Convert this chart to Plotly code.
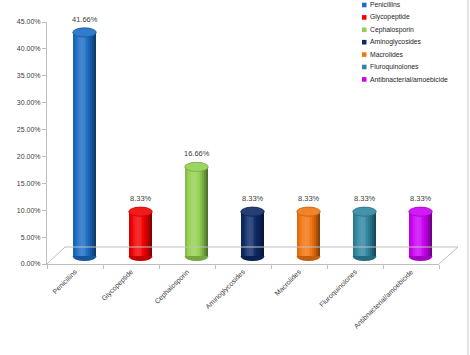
import plotly.graph_objects as go

categories = ["Penicillins", "Glycopeptide", "Cephalosporin", "Aminoglycosides",
              "Macrolides", "Fluroquinolones", "Antibnacterial/amoebicide"]
values = [0.4166, 0.0833, 0.1666, 0.0833, 0.0833, 0.0833, 0.0833]
value_labels = ["41.66%", "8.33%", "16.66%", "8.33%", "8.33%", "8.33%", "8.33%"]
colors = ["#1a6cc4", "#f20000", "#92d050", "#0d2a66", "#f27510", "#2e86a0", "#cc00f5"]

W, H = 470, 355
L, R, T, B = 47, 439, 22, 264
FONT = "Liberation Sans, Arial, sans-serif"
TXT = "#404040"
GRID = "#bfbfbf"

BASE = 0.014      # 3D depth offset of cylinder base
WIDTH = 0.42
OFFSET = -0.04
CAP = 0.0085      # half-height of ellipse caps (data units)
NSTRIP = 12


def hex2rgb(h):
    h = h.lstrip("#")
    return tuple(int(h[i:i + 2], 16) for i in (0, 2, 4))


def shade(h, f):
    r, g, b = hex2rgb(h)
    if f >= 1:
        k = f - 1
        r, g, b = [c + (255 - c) * k for c in (r, g, b)]
    else:
        r, g, b = [c * f for c in (r, g, b)]
    return "rgb(%d,%d,%d)" % (round(r), round(g), round(b))


def factor(t):
    # brightness across the cylinder: dark edges, highlight left of centre
    d = abs(t - 0.38)
    return 1.18 - 0.7 * (d / 0.62) ** 1.6


def px_x(p):
    return (p - L) / (R - L)


def px_y(p):
    return (B - p) / (B - T)


fig = go.Figure()
shapes = []
annotations = []

for i, (cat, v, c) in enumerate(zip(categories, values, colors)):
    sw = WIDTH / NSTRIP
    for k in range(NSTRIP):
        t = (k + 0.5) / NSTRIP
        fig.add_trace(go.Bar(
            x=[cat], y=[v], base=[BASE], width=[sw + 0.002],
            offset=OFFSET + k * sw,
            marker=dict(color=shade(c, factor(t)), line=dict(width=0)),
            showlegend=False, hoverinfo="skip"))
    # bottom rounded end
    shapes.append(dict(type="circle", xref="x", yref="y", layer="below",
                       x0=i + OFFSET, x1=i + OFFSET + WIDTH,
                       y0=BASE - CAP, y1=BASE + CAP,
                       fillcolor=shade(c, 0.8), line=dict(width=0)))
    # top cap
    shapes.append(dict(type="circle", xref="x", yref="y", layer="above",
                       x0=i + OFFSET, x1=i + OFFSET + WIDTH,
                       y0=v + BASE - CAP, y1=v + BASE + CAP,
                       fillcolor=shade(c, 1.1), line=dict(width=0.8, color=shade(c, 0.8))))
    annotations.append(dict(x=i + OFFSET + WIDTH / 2, y=v + BASE, xref="x", yref="y",
                            text=value_labels[i], showarrow=False, yshift=13,
                            font=dict(size=7.5, color=TXT, family=FONT)))

# 3D floor outline
floor = [((L, B), (65, 247)), ((65, 247), (458, 247)), ((R, B), (458, 247))]
for (x0, y0), (x1, y1) in floor:
    shapes.append(dict(type="line", xref="paper", yref="paper",
                       x0=px_x(x0), y0=px_y(y0), x1=px_x(x1), y1=px_y(y1),
                       line=dict(color=GRID, width=1)))
# right frame border
shapes.append(dict(type="line", xref="paper", yref="paper",
                   x0=px_x(468), x1=px_x(468), y0=px_y(0), y1=px_y(H),
                   line=dict(color="#c8c8c8", width=1)))

# legend (compact, Excel-like)
for j, (cat, c) in enumerate(zip(categories, colors)):
    yc = 5 + j * 12.4
    shapes.append(dict(type="rect", xref="paper", yref="paper",
                       x0=px_x(362), x1=px_x(366.5), y0=px_y(yc - 2.3), y1=px_y(yc + 2.3),
                       fillcolor=c, line=dict(width=0)))
    annotations.append(dict(x=px_x(368), y=px_y(yc), xref="paper", yref="paper",
                            text=cat, showarrow=False, xanchor="left", yanchor="middle",
                            font=dict(size=6.8, color="#262626", family=FONT)))

fig.update_layout(
    width=W, height=H,
    margin=dict(l=L, r=W - R, t=T, b=H - B, pad=0),
    paper_bgcolor="white", plot_bgcolor="white",
    barmode="overlay", bargap=0,
    showlegend=False,
    shapes=shapes, annotations=annotations,
    font=dict(family=FONT, color=TXT, size=7),
    xaxis=dict(type="category", categoryorder="array", categoryarray=categories,
               range=[-0.5, 6.5], showline=True, linecolor=GRID, linewidth=1,
               tickson="boundaries", ticks="outside", ticklen=4, tickcolor=GRID,
               tickangle=-45, tickfont=dict(size=7, color=TXT, family=FONT),
               showgrid=False, zeroline=False, fixedrange=True),
    yaxis=dict(range=[0, 0.45], dtick=0.05, tickformat=".2%",
               showline=True, linecolor=GRID, linewidth=1,
               ticks="outside", ticklen=4, tickcolor=GRID,
               tickfont=dict(size=7, color=TXT, family=FONT),
               showgrid=False, zeroline=False, fixedrange=True),
)

fig.write_html("out.html")
